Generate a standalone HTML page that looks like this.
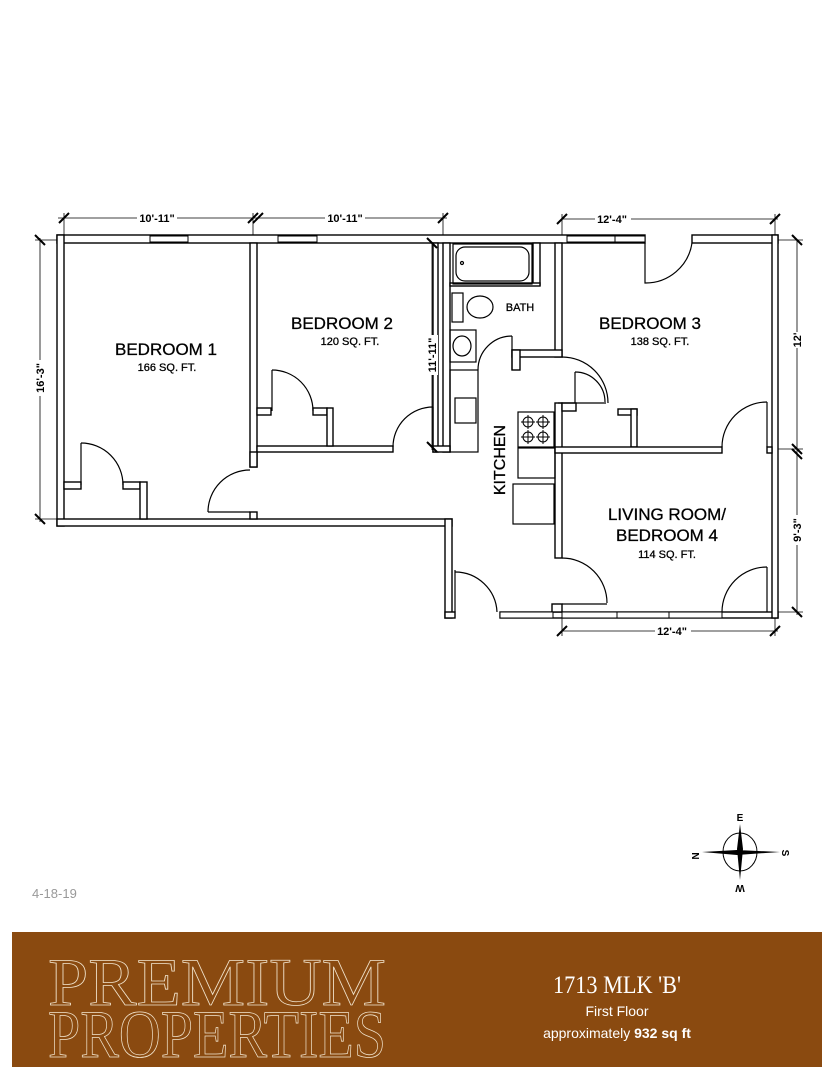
<!DOCTYPE html>
<html><head><meta charset="utf-8"><style>
html,body{margin:0;padding:0;background:#fff;}
body{width:835px;height:1080px;position:relative;overflow:hidden;}
svg{position:absolute;left:0;top:0;}
</style></head><body>
<svg width="835" height="1080" viewBox="0 0 835 1080" xmlns="http://www.w3.org/2000/svg" font-family="Liberation Sans, Arial, sans-serif">
<g fill="#fff" stroke="#000" stroke-width="1.4">
<rect x="57" y="235" width="588" height="8"/>
<rect x="692" y="235" width="86" height="8"/>
<rect x="57" y="235" width="7" height="291"/>
<rect x="57" y="519" width="395" height="7"/>
<rect x="445" y="519" width="7" height="99"/>
<rect x="445" y="612" width="10" height="6"/>
<rect x="500" y="612" width="278" height="6"/>
<rect x="772" y="235" width="6" height="383"/>
<rect x="250" y="243" width="7" height="224"/>
<rect x="250" y="512" width="7" height="7"/>
<rect x="257" y="446" width="136" height="6"/>
<rect x="250" y="452" width="7" height="15"/>
<rect x="433" y="243" width="5" height="209"/>
<rect x="443" y="243" width="7" height="209"/>
<rect x="433" y="446" width="17" height="6"/>
<rect x="64" y="482" width="17" height="7"/>
<rect x="123" y="482" width="17" height="7"/>
<rect x="140" y="482" width="7" height="37"/>
<rect x="257" y="408" width="14" height="7"/>
<rect x="313" y="408" width="14" height="7"/>
<rect x="327" y="408" width="6" height="38"/>
<rect x="533" y="243" width="7" height="42"/>
<rect x="555" y="243" width="7" height="114"/>
<rect x="512" y="350" width="50" height="7"/>
<rect x="512" y="350" width="8" height="20"/>
<rect x="450" y="283" width="90" height="3"/>
<rect x="555" y="403" width="7" height="155"/>
<rect x="552" y="604" width="10" height="8"/>
<rect x="562" y="403" width="14" height="8"/>
<rect x="618" y="409" width="19" height="6"/>
<rect x="631" y="409" width="6" height="38"/>
<rect x="555" y="447" width="167" height="6"/>
<rect x="767" y="447" width="5" height="6"/>
</g>
<g fill="#fff" stroke="#000" stroke-width="1">
<rect x="150" y="236" width="38" height="6"/>
<rect x="278" y="236" width="39" height="6"/>
<rect x="567" y="236" width="48" height="6"/>
<rect x="615" y="236" width="30" height="6"/>
<rect x="500" y="612" width="53" height="6"/>
<rect x="562" y="612" width="55" height="6"/>
<rect x="617" y="612" width="52" height="6"/>
<rect x="669" y="612" width="53" height="6"/>
</g>
<g fill="none" stroke="#000" stroke-width="1.2">
<path d="M208 512 A42 42 0 0 1 250 470"/><line x1="208" y1="512" x2="250" y2="512"/>
<path d="M81 443 A42 42 0 0 1 123 485"/><line x1="81" y1="443" x2="81" y2="485"/>
<path d="M272 370 A41 41 0 0 1 313 411"/><line x1="272" y1="370" x2="272" y2="411"/>
<path d="M393 447 A40 40 0 0 1 433 407"/><line x1="433" y1="407" x2="433" y2="447"/>
<path d="M478 370 A34 34 0 0 1 512 336"/><line x1="512" y1="336" x2="512" y2="370"/>
<path d="M562 357 A46 46 0 0 1 608 403"/><line x1="558" y1="403" x2="606" y2="403"/>
<path d="M575 372 A30 30 0 0 1 605 402"/><line x1="575" y1="372" x2="575" y2="403"/>
<path d="M722 447 A45 45 0 0 1 767 402"/><line x1="767" y1="402" x2="767" y2="447"/>
<path d="M562 558 A45 45 0 0 1 607 603"/><line x1="562" y1="604" x2="607" y2="604"/>
<path d="M722 612 A45 45 0 0 1 767 567"/><line x1="767" y1="567" x2="767" y2="612"/>
<path d="M455 572 A42 42 0 0 1 497 612"/><line x1="455" y1="570" x2="455" y2="612"/>
<path d="M645 243 L645 283 A47 47 0 0 0 692 243"/>
<rect x="453" y="244" width="79" height="40"/>
<rect x="456" y="247" width="73" height="34" rx="9"/>
<circle cx="462" cy="263" r="1.5"/>
<rect x="452" y="293" width="11" height="29"/>
<ellipse cx="480" cy="307" rx="13" ry="11"/>
<rect x="450" y="330" width="26" height="32"/>
<ellipse cx="462" cy="346" rx="9" ry="10"/>
<rect x="450" y="370" width="28" height="82"/>
<rect x="455" y="398" width="21" height="25"/>
<rect x="518" y="412" width="36" height="35"/>
<g stroke-width="1"><circle cx="528" cy="422" r="5"/><circle cx="543" cy="422" r="5"/><circle cx="528" cy="437" r="5"/><circle cx="543" cy="437" r="5"/>
<path d="M521 422h14M528 415v14M536 422h14M543 415v14M521 437h14M528 430v14M536 437h14M543 430v14"/></g>
<rect x="518" y="448" width="37" height="30"/>
<rect x="513" y="484" width="41" height="40"/>
</g>
<g stroke="#000" stroke-width="0.8" fill="none">
<line x1="58" y1="218" x2="447" y2="218"/>
<line x1="562" y1="219" x2="778" y2="219"/>
<line x1="40" y1="238" x2="40" y2="522"/>
<line x1="432" y1="243" x2="432" y2="450"/>
<line x1="797" y1="240" x2="797" y2="615"/>
<line x1="562" y1="631" x2="778" y2="631"/>
<line x1="64" y1="213" x2="64" y2="235"/><line x1="253" y1="213" x2="253" y2="235"/><line x1="443" y1="213" x2="443" y2="235"/>
<line x1="562" y1="214" x2="562" y2="235"/><line x1="775" y1="214" x2="775" y2="235"/>
<line x1="35" y1="240" x2="57" y2="240"/><line x1="35" y1="519" x2="57" y2="519"/>
<line x1="778" y1="240" x2="803" y2="240"/><line x1="778" y1="449" x2="803" y2="449"/><line x1="778" y1="612" x2="803" y2="612"/>
<line x1="562" y1="618" x2="562" y2="636"/><line x1="775" y1="618" x2="775" y2="636"/>
</g>
<g stroke="#000" stroke-width="2">
<path d="M59 223l10-10M248 223l10-10M253 223l10-10M438 223l10-10M557 224l10-10M770 224l10-10M35 235l10 10M35 514l10 10M427 238l10 10M427 442l10 10M792 235l10 10M792 444l10 10M792 449l10 10M792 607l10 10M557 636l10-10M770 636l10-10"/>
</g>
<g font-size="11" font-weight="bold" text-anchor="middle" fill="#000">
<rect x="137" y="212" width="40" height="12" fill="#fff"/><text x="157" y="222">10'-11"</text>
<rect x="325" y="212" width="40" height="12" fill="#fff"/><text x="345" y="222">10'-11"</text>
<rect x="595" y="213" width="36" height="12" fill="#fff"/><text x="612" y="223">12'-4"</text>
<rect x="655" y="625" width="36" height="12" fill="#fff"/><text x="672" y="635">12'-4"</text>
<g transform="translate(44,378) rotate(-90)"><rect x="-18" y="-10" width="36" height="12" fill="#fff"/><text x="0" y="0">16'-3"</text></g>
<g transform="translate(436,355) rotate(-90)"><rect x="-20" y="-10" width="40" height="12" fill="#fff"/><text x="0" y="0">11'-11"</text></g>
<g transform="translate(801,340) rotate(-90)"><rect x="-8" y="-10" width="16" height="12" fill="#fff"/><text x="0" y="0">12'</text></g>
<g transform="translate(801,530) rotate(-90)"><rect x="-15" y="-10" width="30" height="12" fill="#fff"/><text x="0" y="0">9'-3"</text></g>
</g>
<g text-anchor="middle" fill="#000" stroke="#000" stroke-width="0.3">
<text x="166" y="355" font-size="17">BEDROOM 1</text><text x="167" y="371" font-size="11">166 SQ. FT.</text>
<text x="342" y="329" font-size="17">BEDROOM 2</text><text x="350" y="345" font-size="11">120 SQ. FT.</text>
<text x="650" y="329" font-size="17">BEDROOM 3</text><text x="660" y="345" font-size="11">138 SQ. FT.</text>
<text x="520" y="311" font-size="11">BATH</text>
<text x="667" y="520" font-size="17">LIVING ROOM/</text><text x="667" y="541" font-size="17">BEDROOM 4</text><text x="667" y="558" font-size="11">114 SQ. FT.</text>
<text transform="translate(505,460) rotate(-90)" font-size="16">KITCHEN</text>
</g>
<g>
<ellipse cx="740" cy="852" rx="17" ry="19" fill="none" stroke="#000" stroke-width="1"/>
<path d="M740 824 L743 849 L740 880 L737 849Z M702 852 L737 850 L780 852 L737 855Z" fill="#000"/>
<g font-size="10" font-weight="bold" text-anchor="middle" fill="#000">
<text x="740" y="821">E</text>
<text x="740" y="893" transform="rotate(180 740 889)">W</text>
<text x="696" y="852" transform="rotate(90 692 852)">N</text>
<text x="787" y="856" transform="rotate(90 786 852)">S</text>
</g></g>
<text x="32" y="898" font-size="13" fill="#999">4-18-19</text>
<rect x="12" y="932" width="810" height="135" fill="#8a4a10"/>
<g font-family="Liberation Serif, serif" font-size="68" font-weight="normal" fill="none" stroke="#f1e3cc" stroke-width="0.8">
<text x="48" y="1005" textLength="338" lengthAdjust="spacingAndGlyphs">PREMIUM</text>
<text x="48" y="1057" textLength="338" lengthAdjust="spacingAndGlyphs">PROPERTIES</text>
</g>
<g fill="#fff" text-anchor="middle">
<text x="617" y="993" font-family="Liberation Serif, serif" font-size="25" textLength="128" lengthAdjust="spacingAndGlyphs">1713 MLK 'B'</text>
<text x="617" y="1016" font-size="14">First Floor</text>
<text x="617" y="1038" font-size="14">approximately <tspan font-weight="bold">932 sq ft</tspan></text>
</g>
</svg>
</body></html>
